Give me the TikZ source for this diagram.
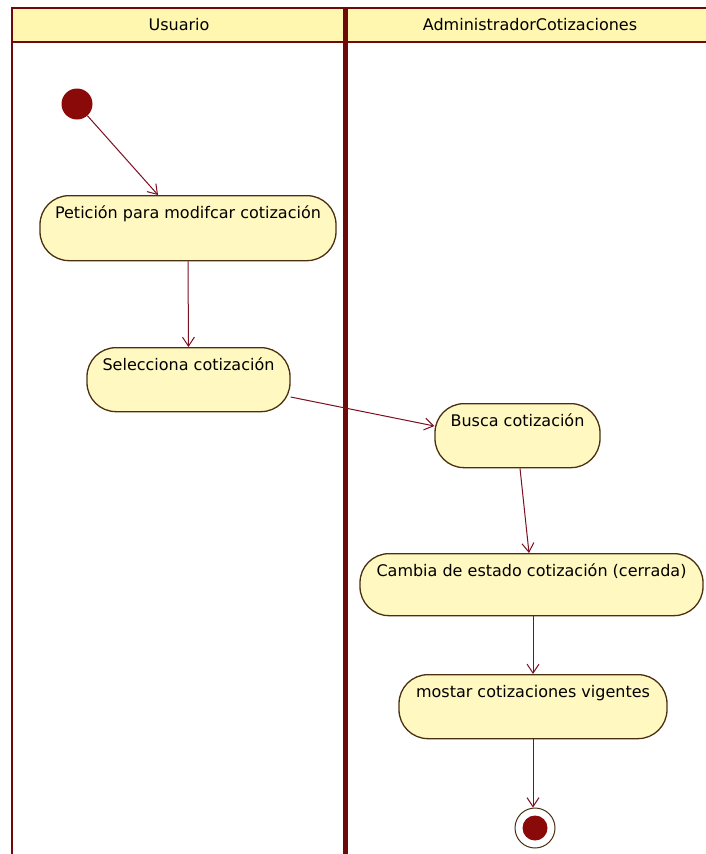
\documentclass[tikz,border=0pt]{standalone}
\usepackage{fontspec}
\setmainfont{DejaVu Sans}
\usetikzlibrary{arrows.meta}
\definecolor{lanered}{HTML}{6E0A0A}
\definecolor{arrowred}{HTML}{7A1020}
\definecolor{nodeborder}{HTML}{4A3010}
\definecolor{nodefill}{HTML}{FFF8C0}
\definecolor{headfill}{HTML}{FFF6B0}
\definecolor{dotred}{HTML}{8A0A0A}
\tikzset{
  act/.style={draw=nodeborder, line width=1.3pt, fill=nodefill, rounded corners=29pt,
    inner sep=0pt, text height=23pt, text depth=#1, anchor=north,
    font=\fontsize{16}{18}\selectfont},
  flow/.style={draw=arrowred, line width=1pt, -{Straight Barb[length=9pt,width=12pt]}},
  lane/.style={draw=lanered},
  headtxt/.style={font=\fontsize{16}{18}\selectfont, anchor=center}
}
\begin{document}
\begin{tikzpicture}[x=1pt,y=-1pt]
\useasboundingbox (0,0) rectangle (706,854);
\fill[white] (0,0) rectangle (706,854);
% header band
\fill[headfill] (12,8) rectangle (706,42);
\draw[lane, line width=2.2pt] (706,8) -- (12,8) -- (12,854);
\draw[lane, line width=2.2pt] (12,42) -- (706,42);
\draw[lane, line width=5pt] (345.5,8) -- (345.5,854);
\node[headtxt] (h1) at (179,25) {Usuario};
\node[headtxt] (h2) at (530,25) {AdministradorCotizaciones};
% start
\node[circle, fill=dotred, minimum size=31pt, inner sep=0pt] (start) at (77,104) {};
% activities
\node[act=42pt, minimum width=296pt] (pet) at (188,195) {Petición para modifcar cotización};
\node[act=41pt, minimum width=203pt] (sel) at (188.5,347) {Selecciona cotización};
\node[act=41pt, minimum width=165pt] (bus) at (517.5,403) {Busca cotización};
\node[act=39pt, minimum width=343pt] (cam) at (531.5,553) {Cambia de estado cotización (cerrada)};
\node[act=41pt, minimum width=268pt] (mos) at (533,674) {mostar cotizaciones vigentes};
% end
\node[circle, draw=nodeborder, line width=1pt, fill=white, minimum size=40pt, inner sep=0pt] (end) at (535,828) {};
\node[circle, fill=dotred, minimum size=25pt, inner sep=0pt] (endin) at (end) {};
% flows
\draw[flow] (start) -- (pet.north -| 158,0);
\draw[flow] (pet.south) -- (sel.north);
\draw[flow] (sel.east |- 0,397) -- (bus.west |- 0,426);
\draw[flow] (bus.south -| 520,0) -- (cam.north -| 529,0);
\draw[flow] (cam.south -| 533,0) -- (mos.north -| 533,0);
\draw[flow] (mos.south -| 533,0) -- (end.north -| 533,0);
\end{tikzpicture}
\end{document}
